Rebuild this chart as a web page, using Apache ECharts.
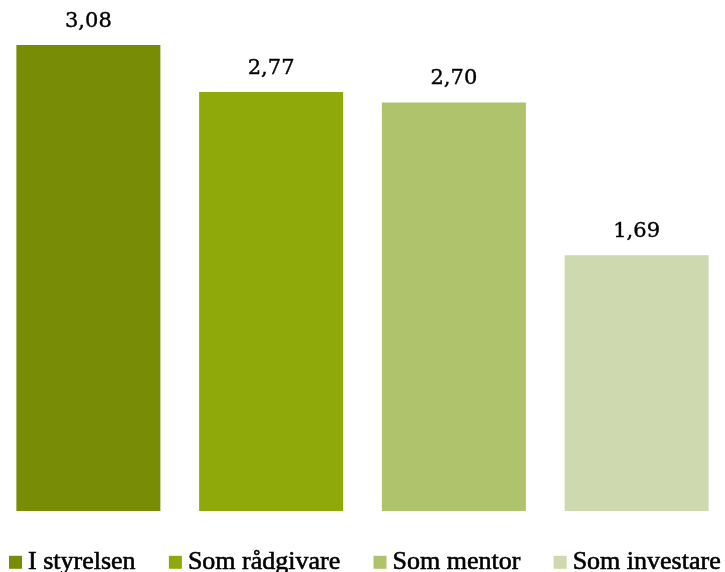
<!DOCTYPE html>
<html>
<head>
<meta charset="utf-8">
<script src="https://cdn.jsdelivr.net/npm/echarts@6/dist/echarts.min.js"></script>
<style>html,body{margin:0;padding:0;background:#fff;overflow:hidden;width:725px;height:572px;}#c{position:absolute;left:-3px;top:0;width:731px;height:572px;}</style>
</head>
<body>
<div id="c"></div>
<script>
const categories = ["I styrelsen", "Som rådgivare", "Som mentor", "Som investare"];
const values = [3.08, 2.77, 2.70, 1.69];
const colors = ["#798C06", "#8FA80A", "#AFC26C", "#CFD9AF"];

const chart = echarts.init(document.getElementById('c'), null, {renderer: 'canvas'});
const series = categories.map((name, i) => ({
  name: name,
  type: 'bar',
  stack: 'all',
  barWidth: 144,
  itemStyle: {color: colors[i]},
  label: {
    show: true,
    position: 'top',
    distance: 13,
    fontFamily: 'DejaVu Serif',
    fontSize: 21,
    color: '#000',
    textBorderColor: '#000',
    textBorderWidth: 0.4,
    formatter: p => p.value.toFixed(2).replace('.', ',')
  },
  data: categories.map((c, j) => j === i ? values[i] : '-')
}));

chart.setOption({
  animation: false,
  grid: {left: 0, right: 0, top: 45, bottom: 61},
  xAxis: {type: 'category', data: categories, show: false},
  yAxis: {type: 'value', min: 0, max: 3.08, show: false},
  legend: {
    left: 12, top: 549, width: 900, padding: 0,
    itemWidth: 13, itemHeight: 13, itemGap: 33,
    icon: 'rect',
    textStyle: {fontFamily: 'Liberation Serif', fontSize: 26, color: '#000', textBorderColor: '#000', textBorderWidth: 0.6, padding: [0,0,0,1]},
    data: categories
  },
  series: series
});
</script>
</body>
</html>
